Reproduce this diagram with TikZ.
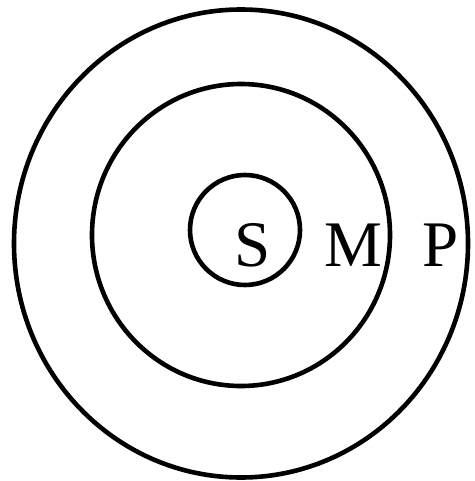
\documentclass[tikz,border=0pt]{standalone}
\usepackage{fontspec}
\setmainfont{Liberation Serif}
\usepackage{tikz}
\usetikzlibrary{shapes.geometric,positioning}

\begin{document}
\begin{tikzpicture}[
    x=1pt, y=-1pt,
    ring/.style={draw, ellipse, line width=4.6pt, inner sep=0pt},
    term/.style={inner sep=0pt, font=\fontsize{65}{70}\selectfont}
]
\useasboundingbox (0,0) rectangle (474,481);

\node[ring, minimum width=454pt, minimum height=468pt] (outer) at (241,243.5) {};
\node[ring, minimum width=298pt, minimum height=302pt] (middle) at (241,235) {};
\node[ring, minimum width=110pt, minimum height=110pt] (inner) at (245,230) {};

\node[term] (s) at (253,245) {S};
\node[term] (m) at (353,245) {M};
\node[term] (p) at (441,245) {P};

\end{tikzpicture}
\end{document}
